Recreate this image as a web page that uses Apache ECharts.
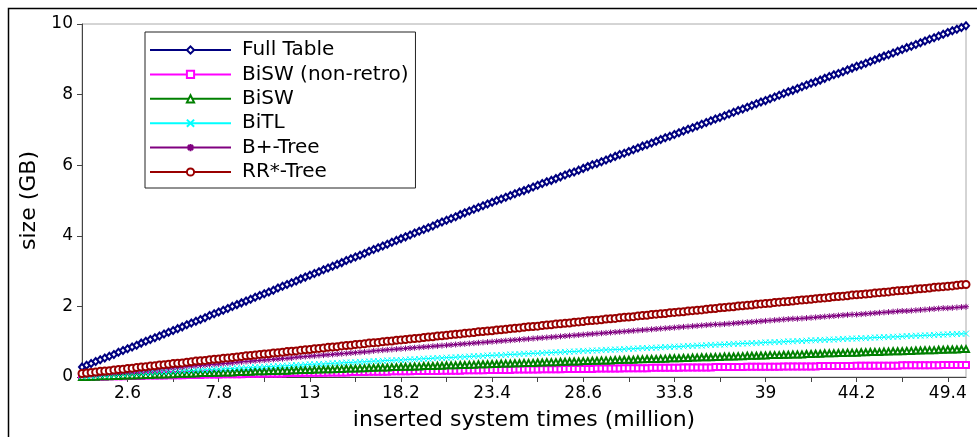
<!DOCTYPE html>
<html>
<head>
<meta charset="utf-8">
<title>size (GB)</title>
<script src="https://cdn.jsdelivr.net/npm/echarts@6/dist/echarts.min.js"></script>
<style>
  html, body { margin: 0; padding: 0; background: #fff; }
  #chart { width: 977px; height: 437px; }
</style>
</head>
<body>
<div id="chart"></div>
<script>
// inserted system times (million)
const categories = [
  0, 0.26, 0.52, 0.78, 1.04, 1.3, 1.56, 1.82, 2.08, 2.34,
  2.6, 2.86, 3.12, 3.38, 3.64, 3.9, 4.16, 4.42, 4.68, 4.94,
  5.2, 5.46, 5.72, 5.98, 6.24, 6.5, 6.76, 7.02, 7.28, 7.54,
  7.8, 8.06, 8.32, 8.58, 8.84, 9.1, 9.36, 9.62, 9.88, 10.14,
  10.4, 10.66, 10.92, 11.18, 11.44, 11.7, 11.96, 12.22, 12.48, 12.74,
  13, 13.26, 13.52, 13.78, 14.04, 14.3, 14.56, 14.82, 15.08, 15.34,
  15.6, 15.86, 16.12, 16.38, 16.64, 16.9, 17.16, 17.42, 17.68, 17.94,
  18.2, 18.46, 18.72, 18.98, 19.24, 19.5, 19.76, 20.02, 20.28, 20.54,
  20.8, 21.06, 21.32, 21.58, 21.84, 22.1, 22.36, 22.62, 22.88, 23.14,
  23.4, 23.66, 23.92, 24.18, 24.44, 24.7, 24.96, 25.22, 25.48, 25.74,
  26, 26.26, 26.52, 26.78, 27.04, 27.3, 27.56, 27.82, 28.08, 28.34,
  28.6, 28.86, 29.12, 29.38, 29.64, 29.9, 30.16, 30.42, 30.68, 30.94,
  31.2, 31.46, 31.72, 31.98, 32.24, 32.5, 32.76, 33.02, 33.28, 33.54,
  33.8, 34.06, 34.32, 34.58, 34.84, 35.1, 35.36, 35.62, 35.88, 36.14,
  36.4, 36.66, 36.92, 37.18, 37.44, 37.7, 37.96, 38.22, 38.48, 38.74,
  39, 39.26, 39.52, 39.78, 40.04, 40.3, 40.56, 40.82, 41.08, 41.34,
  41.6, 41.86, 42.12, 42.38, 42.64, 42.9, 43.16, 43.42, 43.68, 43.94,
  44.2, 44.46, 44.72, 44.98, 45.24, 45.5, 45.76, 46.02, 46.28, 46.54,
  46.8, 47.06, 47.32, 47.58, 47.84, 48.1, 48.36, 48.62, 48.88, 49.14,
  49.4, 49.66, 49.92, 50.18, 50.44
].map(String);

const tickLabels = ['2.6', '7.8', '13', '18.2', '23.4', '28.6', '33.8', '39', '44.2', '49.4'];
const minorTicks = ['5.2', '10.4', '15.6', '20.8', '26', '31.2', '36.4', '41.6', '46.8'];

// size (GB)
const fullTable = [
  0.28, 0.33, 0.38, 0.44, 0.49, 0.54, 0.59, 0.64, 0.70, 0.75,
  0.80, 0.85, 0.90, 0.96, 1.01, 1.06, 1.11, 1.16, 1.22, 1.27,
  1.32, 1.37, 1.42, 1.48, 1.53, 1.58, 1.63, 1.68, 1.74, 1.79,
  1.84, 1.89, 1.94, 2.00, 2.05, 2.10, 2.15, 2.20, 2.26, 2.31,
  2.36, 2.41, 2.46, 2.52, 2.57, 2.62, 2.67, 2.72, 2.78, 2.83,
  2.88, 2.93, 2.98, 3.04, 3.09, 3.14, 3.19, 3.24, 3.30, 3.35,
  3.40, 3.45, 3.50, 3.56, 3.61, 3.66, 3.71, 3.76, 3.82, 3.87,
  3.92, 3.97, 4.02, 4.08, 4.13, 4.18, 4.23, 4.28, 4.34, 4.39,
  4.44, 4.49, 4.54, 4.60, 4.65, 4.70, 4.75, 4.80, 4.85, 4.90,
  4.95, 5.00, 5.04, 5.09, 5.14, 5.19, 5.24, 5.28, 5.33, 5.38,
  5.43, 5.48, 5.53, 5.57, 5.62, 5.67, 5.72, 5.77, 5.81, 5.86,
  5.91, 5.96, 6.01, 6.05, 6.10, 6.15, 6.20, 6.25, 6.30, 6.34,
  6.39, 6.44, 6.49, 6.54, 6.58, 6.63, 6.68, 6.73, 6.78, 6.82,
  6.87, 6.92, 6.97, 7.02, 7.06, 7.11, 7.16, 7.21, 7.26, 7.31,
  7.35, 7.40, 7.45, 7.50, 7.55, 7.59, 7.64, 7.69, 7.74, 7.79,
  7.83, 7.88, 7.93, 7.98, 8.03, 8.08, 8.12, 8.17, 8.22, 8.27,
  8.32, 8.36, 8.41, 8.46, 8.51, 8.56, 8.60, 8.65, 8.70, 8.75,
  8.80, 8.84, 8.89, 8.94, 8.99, 9.04, 9.09, 9.13, 9.18, 9.23,
  9.28, 9.33, 9.37, 9.42, 9.47, 9.52, 9.57, 9.61, 9.66, 9.71,
  9.76, 9.81, 9.85, 9.90, 9.95
];

const bisWNonRetro = [
  0.00, 0.00, 0.01, 0.01, 0.01, 0.01, 0.02, 0.02, 0.02, 0.02,
  0.03, 0.03, 0.03, 0.03, 0.04, 0.04, 0.04, 0.04, 0.04, 0.05,
  0.05, 0.05, 0.05, 0.06, 0.06, 0.06, 0.06, 0.07, 0.07, 0.07,
  0.07, 0.08, 0.08, 0.08, 0.08, 0.08, 0.09, 0.09, 0.09, 0.09,
  0.10, 0.10, 0.10, 0.10, 0.10, 0.11, 0.11, 0.11, 0.11, 0.12,
  0.12, 0.12, 0.12, 0.12, 0.13, 0.13, 0.13, 0.13, 0.13, 0.14,
  0.14, 0.14, 0.14, 0.15, 0.15, 0.15, 0.15, 0.15, 0.16, 0.16,
  0.16, 0.16, 0.16, 0.17, 0.17, 0.17, 0.17, 0.17, 0.17, 0.18,
  0.18, 0.18, 0.18, 0.18, 0.19, 0.19, 0.19, 0.19, 0.19, 0.20,
  0.20, 0.20, 0.20, 0.20, 0.20, 0.21, 0.21, 0.21, 0.21, 0.21,
  0.21, 0.22, 0.22, 0.22, 0.22, 0.22, 0.23, 0.23, 0.23, 0.23,
  0.23, 0.23, 0.23, 0.24, 0.24, 0.24, 0.24, 0.24, 0.24, 0.25,
  0.25, 0.25, 0.25, 0.25, 0.25, 0.26, 0.26, 0.26, 0.26, 0.26,
  0.26, 0.26, 0.27, 0.27, 0.27, 0.27, 0.27, 0.27, 0.27, 0.28,
  0.28, 0.28, 0.28, 0.28, 0.28, 0.28, 0.29, 0.29, 0.29, 0.29,
  0.29, 0.29, 0.29, 0.29, 0.30, 0.30, 0.30, 0.30, 0.30, 0.30,
  0.30, 0.30, 0.31, 0.31, 0.31, 0.31, 0.31, 0.31, 0.31, 0.31,
  0.32, 0.32, 0.32, 0.32, 0.32, 0.32, 0.32, 0.32, 0.32, 0.32,
  0.33, 0.33, 0.33, 0.33, 0.33, 0.33, 0.33, 0.33, 0.33, 0.34,
  0.34, 0.34, 0.34, 0.34, 0.34
];

const bisW = [
  0.00, 0.00, 0.01, 0.01, 0.02, 0.02, 0.02, 0.03, 0.03, 0.04,
  0.04, 0.04, 0.05, 0.05, 0.06, 0.06, 0.07, 0.07, 0.07, 0.08,
  0.08, 0.09, 0.09, 0.09, 0.10, 0.10, 0.11, 0.11, 0.11, 0.12,
  0.12, 0.13, 0.13, 0.13, 0.14, 0.14, 0.15, 0.15, 0.16, 0.16,
  0.16, 0.17, 0.17, 0.18, 0.18, 0.18, 0.19, 0.19, 0.20, 0.20,
  0.20, 0.21, 0.21, 0.22, 0.22, 0.22, 0.23, 0.23, 0.24, 0.24,
  0.24, 0.25, 0.25, 0.26, 0.26, 0.27, 0.27, 0.27, 0.28, 0.28,
  0.29, 0.29, 0.29, 0.30, 0.30, 0.31, 0.31, 0.31, 0.32, 0.32,
  0.33, 0.33, 0.33, 0.34, 0.34, 0.35, 0.35, 0.36, 0.36, 0.36,
  0.37, 0.37, 0.38, 0.38, 0.38, 0.39, 0.39, 0.40, 0.40, 0.40,
  0.41, 0.41, 0.42, 0.42, 0.42, 0.43, 0.43, 0.44, 0.44, 0.44,
  0.45, 0.45, 0.46, 0.46, 0.47, 0.47, 0.47, 0.48, 0.48, 0.49,
  0.49, 0.49, 0.50, 0.50, 0.51, 0.51, 0.51, 0.52, 0.52, 0.53,
  0.53, 0.53, 0.54, 0.54, 0.55, 0.55, 0.56, 0.56, 0.56, 0.57,
  0.57, 0.58, 0.58, 0.58, 0.59, 0.59, 0.60, 0.60, 0.60, 0.61,
  0.61, 0.62, 0.62, 0.62, 0.63, 0.63, 0.64, 0.64, 0.64, 0.65,
  0.65, 0.66, 0.66, 0.67, 0.67, 0.67, 0.68, 0.68, 0.69, 0.69,
  0.69, 0.70, 0.70, 0.71, 0.71, 0.71, 0.72, 0.72, 0.73, 0.73,
  0.73, 0.74, 0.74, 0.75, 0.75, 0.76, 0.76, 0.76, 0.77, 0.77,
  0.78, 0.78, 0.78, 0.79, 0.79
];

const biTL = [
  0.02, 0.03, 0.03, 0.04, 0.05, 0.05, 0.06, 0.07, 0.07, 0.08,
  0.09, 0.10, 0.10, 0.11, 0.12, 0.12, 0.13, 0.14, 0.14, 0.15,
  0.16, 0.16, 0.17, 0.18, 0.18, 0.19, 0.20, 0.20, 0.21, 0.22,
  0.22, 0.23, 0.24, 0.24, 0.25, 0.26, 0.26, 0.27, 0.28, 0.28,
  0.29, 0.30, 0.30, 0.31, 0.32, 0.32, 0.33, 0.34, 0.34, 0.35,
  0.36, 0.36, 0.37, 0.37, 0.38, 0.39, 0.39, 0.40, 0.41, 0.41,
  0.42, 0.43, 0.43, 0.44, 0.45, 0.45, 0.46, 0.47, 0.47, 0.48,
  0.48, 0.49, 0.50, 0.50, 0.51, 0.52, 0.52, 0.53, 0.54, 0.54,
  0.55, 0.55, 0.56, 0.57, 0.57, 0.58, 0.59, 0.59, 0.60, 0.61,
  0.61, 0.62, 0.62, 0.63, 0.64, 0.64, 0.65, 0.66, 0.66, 0.67,
  0.67, 0.68, 0.69, 0.69, 0.70, 0.70, 0.71, 0.72, 0.72, 0.73,
  0.74, 0.74, 0.75, 0.75, 0.76, 0.77, 0.77, 0.78, 0.78, 0.79,
  0.80, 0.80, 0.81, 0.82, 0.82, 0.83, 0.83, 0.84, 0.85, 0.85,
  0.86, 0.86, 0.87, 0.88, 0.88, 0.89, 0.89, 0.90, 0.91, 0.91,
  0.92, 0.92, 0.93, 0.94, 0.94, 0.95, 0.95, 0.96, 0.96, 0.97,
  0.98, 0.98, 0.99, 0.99, 1.00, 1.01, 1.01, 1.02, 1.02, 1.03,
  1.04, 1.04, 1.05, 1.05, 1.06, 1.06, 1.07, 1.08, 1.08, 1.09,
  1.09, 1.10, 1.10, 1.11, 1.12, 1.12, 1.13, 1.13, 1.14, 1.14,
  1.15, 1.16, 1.16, 1.17, 1.17, 1.18, 1.18, 1.19, 1.20, 1.20,
  1.21, 1.21, 1.22, 1.22, 1.23
];

const bPlusTree = [
  0.04, 0.05, 0.06, 0.07, 0.08, 0.10, 0.11, 0.12, 0.13, 0.14,
  0.15, 0.16, 0.17, 0.19, 0.20, 0.21, 0.22, 0.23, 0.24, 0.25,
  0.26, 0.27, 0.28, 0.30, 0.31, 0.32, 0.33, 0.34, 0.35, 0.36,
  0.37, 0.38, 0.39, 0.40, 0.42, 0.43, 0.44, 0.45, 0.46, 0.47,
  0.48, 0.49, 0.50, 0.51, 0.52, 0.53, 0.54, 0.56, 0.57, 0.58,
  0.59, 0.60, 0.61, 0.62, 0.63, 0.64, 0.65, 0.66, 0.67, 0.68,
  0.69, 0.70, 0.71, 0.72, 0.74, 0.75, 0.76, 0.77, 0.78, 0.79,
  0.80, 0.81, 0.82, 0.83, 0.84, 0.85, 0.86, 0.87, 0.88, 0.89,
  0.90, 0.91, 0.92, 0.93, 0.94, 0.95, 0.96, 0.97, 0.98, 0.99,
  1.00, 1.01, 1.02, 1.03, 1.04, 1.05, 1.06, 1.07, 1.08, 1.09,
  1.10, 1.11, 1.12, 1.13, 1.14, 1.15, 1.16, 1.17, 1.18, 1.19,
  1.20, 1.21, 1.22, 1.23, 1.24, 1.25, 1.26, 1.27, 1.28, 1.29,
  1.30, 1.31, 1.32, 1.33, 1.34, 1.35, 1.36, 1.37, 1.38, 1.39,
  1.40, 1.41, 1.42, 1.43, 1.44, 1.45, 1.46, 1.47, 1.48, 1.49,
  1.49, 1.50, 1.51, 1.52, 1.53, 1.54, 1.55, 1.56, 1.57, 1.58,
  1.59, 1.60, 1.61, 1.62, 1.63, 1.64, 1.65, 1.65, 1.66, 1.67,
  1.68, 1.69, 1.70, 1.71, 1.72, 1.73, 1.74, 1.75, 1.76, 1.77,
  1.77, 1.78, 1.79, 1.80, 1.81, 1.82, 1.83, 1.84, 1.85, 1.86,
  1.87, 1.87, 1.88, 1.89, 1.90, 1.91, 1.92, 1.93, 1.94, 1.95,
  1.95, 1.96, 1.97, 1.98, 1.99
];

const rrStarTree = [
  0.10, 0.11, 0.13, 0.14, 0.16, 0.17, 0.18, 0.20, 0.21, 0.22,
  0.24, 0.25, 0.27, 0.28, 0.29, 0.31, 0.32, 0.34, 0.35, 0.36,
  0.38, 0.39, 0.40, 0.42, 0.43, 0.45, 0.46, 0.47, 0.49, 0.50,
  0.51, 0.53, 0.54, 0.55, 0.57, 0.58, 0.60, 0.61, 0.62, 0.64,
  0.65, 0.66, 0.68, 0.69, 0.70, 0.72, 0.73, 0.74, 0.76, 0.77,
  0.78, 0.80, 0.81, 0.82, 0.84, 0.85, 0.86, 0.88, 0.89, 0.90,
  0.92, 0.93, 0.94, 0.96, 0.97, 0.98, 1.00, 1.01, 1.02, 1.04,
  1.05, 1.06, 1.08, 1.09, 1.10, 1.12, 1.13, 1.14, 1.16, 1.17,
  1.18, 1.20, 1.21, 1.22, 1.24, 1.25, 1.26, 1.28, 1.29, 1.30,
  1.31, 1.33, 1.34, 1.35, 1.37, 1.38, 1.39, 1.41, 1.42, 1.43,
  1.44, 1.46, 1.47, 1.48, 1.50, 1.51, 1.52, 1.53, 1.55, 1.56,
  1.57, 1.59, 1.60, 1.61, 1.62, 1.64, 1.65, 1.66, 1.68, 1.69,
  1.70, 1.71, 1.73, 1.74, 1.75, 1.77, 1.78, 1.79, 1.80, 1.82,
  1.83, 1.84, 1.85, 1.87, 1.88, 1.89, 1.90, 1.92, 1.93, 1.94,
  1.96, 1.97, 1.98, 1.99, 2.01, 2.02, 2.03, 2.04, 2.06, 2.07,
  2.08, 2.09, 2.11, 2.12, 2.13, 2.14, 2.15, 2.17, 2.18, 2.19,
  2.20, 2.22, 2.23, 2.24, 2.25, 2.27, 2.28, 2.29, 2.30, 2.32,
  2.33, 2.34, 2.35, 2.36, 2.38, 2.39, 2.40, 2.41, 2.43, 2.44,
  2.45, 2.46, 2.47, 2.49, 2.50, 2.51, 2.52, 2.54, 2.55, 2.56,
  2.57, 2.58, 2.60, 2.61, 2.62
];

const font = 'DejaVu Sans';
const crossPath = 'path://M0,0L10,10M10,0L0,10';
const starPath = 'path://M5,0L5,10M0,5L10,5M1.5,1.5L8.5,8.5M8.5,1.5L1.5,8.5';

const makeSeries = (name, data, color, symbol, size) => ({
  name,
  type: 'line',
  data,
  symbol,
  symbolSize: size,
  showSymbol: true,
  showAllSymbol: true,
  lineStyle: { color, width: 1 },
  itemStyle: { color, borderColor: color, borderWidth: 1 },
  emphasis: { disabled: true }
})

const chart = echarts.init(document.getElementById('chart'))

const option = {
  animation: false,
  backgroundColor: '#fff',
  textStyle: { fontFamily: font },
  graphic: [
    {
      type: 'rect',
      silent: true,
      shape: { x: 8.5, y: 8.5, width: 1100, height: 600 },
      style: { fill: 'none', stroke: '#000', lineWidth: 1.5 }
    }
  ],
  grid: {
    left: 82,
    top: 24,
    width: 884,
    height: 353,
    show: true,
    borderColor: '#aaa',
    borderWidth: 1
  },
  legend: {
    orient: 'vertical',
    left: 145,
    top: 32,
    itemWidth: 81,
    itemHeight: 9,
    itemGap: 4.4,
    padding: [8, 7, 6, 4],
    backgroundColor: '#fff',
    borderColor: '#222',
    borderWidth: 1,
    borderRadius: 0,
    textStyle: { fontFamily: font, fontSize: 20, lineHeight: 20, color: '#000', padding: [0, 0, 0, 6] },
    data: ['Full Table', 'BiSW (non-retro)', 'BiSW', 'BiTL', 'B+-Tree', 'RR*-Tree']
  },
  xAxis: {
    type: 'category',
    data: categories,
    boundaryGap: false,
    name: 'inserted system times (million)',
    nameLocation: 'middle',
    nameGap: 32,
    nameTextStyle: { fontFamily: font, fontSize: 22, color: '#000' },
    axisLine: { lineStyle: { color: '#444', width: 1 } },
    axisTick: {
      length: 5,
      interval: (index, value) => tickLabels.includes(value) || minorTicks.includes(value),
      lineStyle: { color: '#444' }
    },
    axisLabel: {
      interval: (index, value) => tickLabels.includes(value),
      margin: 8,
      fontFamily: font,
      fontSize: 17,
      color: '#000'
    },
    splitLine: { show: false }
  },
  yAxis: {
    type: 'value',
    min: 0,
    max: 10,
    interval: 2,
    name: 'size (GB)',
    nameLocation: 'middle',
    nameGap: 40,
    nameTextStyle: { fontFamily: font, fontSize: 22, color: '#000' },
    axisLine: { show: true, lineStyle: { color: '#444', width: 1 } },
    axisTick: { show: true, length: 5, lineStyle: { color: '#444' } },
    axisLabel: { margin: 9, fontFamily: font, fontSize: 17, color: '#000' },
    splitLine: { show: false }
  },
  series: [
    makeSeries('Full Table', fullTable, '#000080', 'emptyDiamond', [6, 7]),
    makeSeries('BiSW (non-retro)', bisWNonRetro, '#ff00ff', 'emptyRect', 6),
    makeSeries('BiSW', bisW, '#008000', 'emptyTriangle', 6),
    makeSeries('BiTL', biTL, '#00ffff', crossPath, 6),
    makeSeries('B+-Tree', bPlusTree, '#800080', starPath, 6),
    makeSeries('RR*-Tree', rrStarTree, '#990000', 'emptyCircle', 7)
  ]
}

chart.setOption(option)

window.addEventListener('resize', () => {
  chart.resize()
})
</script>
</body>
</html>
